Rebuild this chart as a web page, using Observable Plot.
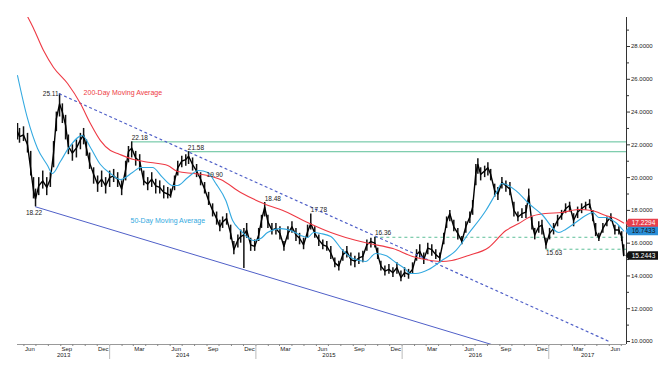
<!DOCTYPE html>
<html><head><meta charset="utf-8">
<script src="https://cdn.jsdelivr.net/npm/d3@7"></script>
<script src="https://cdn.jsdelivr.net/npm/@observablehq/plot@0.6"></script>
<style>html,body{margin:0;padding:0;background:#fff;} svg{display:block}</style>
</head><body><div id="chart"></div>
<script>
const dates = ["2013-05-16","2013-05-21","2013-05-31","2013-06-10","2013-06-18","2013-06-25","2013-06-30","2013-07-08","2013-07-18","2013-07-28",
"2013-08-06","2013-08-14","2013-08-21","2013-08-29","2013-09-05","2013-09-13","2013-09-20","2013-09-30","2013-10-10","2013-10-20",
"2013-10-28","2013-11-04","2013-11-12","2013-11-22","2013-12-02","2013-12-12","2013-12-22","2014-01-01","2014-01-11","2014-01-21",
"2014-01-31","2014-02-10","2014-02-17","2014-02-25","2014-03-07","2014-03-17","2014-03-27","2014-04-06","2014-04-16","2014-04-26",
"2014-05-06","2014-05-16","2014-05-26","2014-06-02","2014-06-12","2014-06-20","2014-06-30","2014-07-10","2014-07-17","2014-07-27",
"2014-08-06","2014-08-16","2014-08-26","2014-09-05","2014-09-15","2014-09-25","2014-10-03","2014-10-10","2014-10-20","2014-10-30",
"2014-11-07","2014-11-17","2014-11-24","2014-12-02","2014-12-09","2014-12-19","2014-12-29","2015-01-08","2015-01-15","2015-01-23",
"2015-01-31","2015-02-10","2015-02-20","2015-03-02","2015-03-12","2015-03-22","2015-04-01","2015-04-11","2015-04-20","2015-04-30",
"2015-05-10","2015-05-18","2015-05-28","2015-06-07","2015-06-17","2015-06-27","2015-07-07","2015-07-17","2015-07-27","2015-08-06",
"2015-08-16","2015-08-26","2015-09-05","2015-09-15","2015-09-25","2015-10-05","2015-10-15","2015-10-25","2015-11-01","2015-11-09",
"2015-11-19","2015-11-29","2015-12-09","2015-12-19","2015-12-29","2016-01-07","2016-01-17","2016-01-27","2016-02-06","2016-02-14",
"2016-02-24","2016-03-05","2016-03-15","2016-03-25","2016-04-04","2016-04-14","2016-04-21","2016-04-29","2016-05-09","2016-05-19",
"2016-05-29","2016-06-08","2016-06-18","2016-06-25","2016-07-03","2016-07-08","2016-07-15","2016-07-25","2016-08-02","2016-08-09",
"2016-08-19","2016-08-27","2016-09-06","2016-09-16","2016-09-26","2016-10-06","2016-10-16","2016-10-26","2016-11-05","2016-11-12",
"2016-11-20","2016-11-27","2016-12-07","2016-12-15","2016-12-25","2017-01-03","2017-01-13","2017-01-23","2017-02-02","2017-02-12",
"2017-02-22","2017-03-04","2017-03-14","2017-03-24","2017-04-03","2017-04-13","2017-04-21","2017-04-28","2017-05-06","2017-05-16",
"2017-05-26","2017-06-05","2017-06-15","2017-06-25","2017-07-02","2017-07-07"];
const closes = [22.8,22.5,22.6,22.0,20.5,19.2,18.7,19.5,19.8,19.4,
19.9,21.5,23.6,24.5,24.0,23.2,21.9,21.5,21.8,22.3,
22.6,21.8,20.9,20.2,19.6,19.9,19.5,20.0,20.1,19.9,
19.3,20.5,21.6,21.8,21.2,21.0,19.8,19.6,19.9,19.5,
19.4,19.1,19.0,18.9,19.8,20.6,21.0,21.1,21.3,20.8,
20.4,19.9,19.3,18.6,18.0,17.5,17.0,17.3,17.5,16.6,
15.6,16.2,16.4,16.5,16.8,15.9,15.8,16.5,17.4,18.2,
17.3,16.8,16.9,16.6,15.8,16.6,17.0,16.5,16.3,15.9,
16.7,17.2,16.6,16.2,15.9,15.8,15.4,14.8,14.6,15.3,
15.5,15.0,14.9,15.1,15.2,15.9,16.1,16.0,15.3,14.6,
14.3,14.4,14.2,14.5,13.9,14.2,14.1,14.4,15.3,15.5,
15.0,15.7,15.6,15.3,15.1,16.3,17.3,17.8,17.0,16.6,
16.1,17.0,17.6,18.2,20.3,20.8,20.2,20.4,20.6,20.2,
19.2,19.0,19.7,19.5,19.3,18.0,17.6,17.8,17.9,18.9,
17.2,16.5,17.0,17.1,15.9,16.6,16.9,17.4,17.7,18.1,
18.3,17.4,17.9,18.1,18.3,18.4,17.6,16.7,16.3,16.9,
17.3,17.6,16.8,16.8,16.4,15.2443];
const highs = [23.3,23.0,23.1,22.7,21.6,20.0,19.3,20.0,20.4,20.0,
20.3,22.2,24.0,25.11,24.5,23.8,22.6,22.0,22.3,22.7,
23.0,22.3,21.5,20.6,20.1,20.4,20.0,20.4,20.5,20.3,
19.8,21.0,21.9,22.18,21.6,21.4,20.4,20.0,20.3,19.9,
19.8,19.5,19.4,19.3,20.1,21.0,21.3,21.4,21.58,21.2,
20.8,20.3,19.7,19.1,18.4,17.9,17.4,17.6,17.8,17.1,
16.1,16.5,16.8,16.9,17.2,16.3,16.2,16.9,17.7,18.48,
17.7,17.2,17.2,17.0,16.1,17.0,17.3,16.9,16.6,16.3,
17.1,17.78,17.0,16.5,16.2,16.1,15.8,15.1,14.9,15.6,
15.8,15.4,15.2,15.4,15.5,16.2,16.3,16.36,15.7,14.9,
14.6,14.7,14.5,14.8,14.3,14.5,14.4,14.8,15.6,15.9,
15.4,16.0,15.9,15.6,15.4,16.6,17.6,18.0,17.4,16.9,
16.4,17.3,17.9,18.6,20.8,21.15,20.6,20.7,20.9,20.5,
19.6,19.4,20.0,19.8,19.7,18.5,17.9,18.1,18.3,19.3,
17.6,16.9,17.3,17.4,16.3,16.9,17.2,17.7,18.0,18.4,
18.5,17.8,18.2,18.4,18.5,18.65,18.0,17.2,16.6,17.2,
17.6,17.8,17.1,17.0,16.7,15.9];
const lows = [22.3,22.1,22.2,21.5,20.1,18.7,18.22,18.9,19.3,18.9,
19.4,20.6,22.8,23.7,23.3,22.3,21.4,21.0,21.2,21.7,
22.0,21.3,20.5,19.6,19.1,19.4,19.0,19.4,19.7,19.4,
18.9,19.8,20.9,21.2,20.7,20.4,19.5,19.2,19.4,19.0,
19.0,18.7,18.7,18.75,19.2,20.1,20.6,20.7,20.8,20.4,
20.0,19.5,19.0,18.3,17.6,17.1,16.7,16.9,17.1,16.2,
15.3,15.7,16.0,14.45,16.3,15.5,15.5,16.1,16.9,17.6,
16.9,16.5,16.5,16.2,15.5,16.2,16.6,16.1,15.9,15.6,
16.3,16.8,16.3,15.8,15.6,15.5,15.0,14.5,14.3,14.9,
15.1,14.6,14.5,14.7,14.8,15.5,15.7,15.7,15.0,14.3,
14.0,14.1,13.9,14.1,13.65,13.9,13.8,14.1,14.9,15.1,
14.7,15.3,15.2,15.0,14.8,15.9,16.9,17.3,16.7,16.2,
15.9,16.6,17.2,17.7,19.5,20.2,19.8,20.0,20.1,19.8,
18.8,18.6,19.3,19.1,18.9,17.6,17.3,17.5,17.5,18.4,
16.8,16.2,16.6,16.5,15.63,16.2,16.5,17.0,17.4,17.8,
17.9,17.0,17.5,17.8,18.0,18.1,17.3,16.4,16.1,16.6,
17.0,17.3,16.5,16.5,16.1,15.2];

// ---- moving averages ----
const ma200Dates = ["2013-06-02","2013-06-24","2013-07-20","2013-08-14","2013-09-18","2013-10-20","2013-11-14","2013-12-09","2014-01-03","2014-01-21",
"2014-03-02","2014-04-13","2014-05-26","2014-06-20","2014-07-30","2014-09-03","2014-10-05","2014-11-24","2015-01-20","2015-03-21",
"2015-05-10","2015-07-07","2015-08-13","2015-10-10","2015-12-09","2016-01-27","2016-03-12","2016-04-09","2016-05-04","2016-06-15",
"2016-08-04","2016-09-16","2016-10-18","2016-11-12","2016-12-24","2017-02-02","2017-03-16","2017-04-18","2017-05-23","2017-06-17","2017-07-07"];
const ma200 = [30.2,29.16,27.75,26.72,25.74,24.52,23.30,22.26,21.65,21.47,
21.10,20.92,20.74,20.37,20.25,20.13,19.88,19.09,18.42,17.87,
17.26,16.65,16.35,15.98,15.67,15.19,14.94,14.88,14.94,15.25,
15.74,16.77,17.20,17.57,17.81,17.87,18.05,17.99,17.69,17.50,17.2294];
const ma50Dates = ["2013-05-16","2013-06-10","2013-07-05","2013-07-30","2013-08-11","2013-08-31","2013-09-20","2013-10-25","2013-11-14","2013-12-09",
"2014-01-03","2014-01-28","2014-02-27","2014-03-19","2014-04-18","2014-05-13","2014-06-07","2014-06-20","2014-07-15","2014-08-11",
"2014-09-03","2014-09-23","2014-10-18","2014-11-04","2014-11-24","2014-12-26","2015-01-13","2015-01-30","2015-03-04","2015-03-29",
"2015-04-23","2015-05-10","2015-05-25","2015-06-12","2015-07-07","2015-08-06","2015-08-31","2015-10-02","2015-10-27","2015-11-21",
"2015-12-16","2016-01-10","2016-01-20","2016-02-04","2016-03-07","2016-04-09","2016-05-14","2016-06-15","2016-07-28","2016-08-22",
"2016-09-06","2016-10-11","2016-11-12","2016-12-15","2017-01-26","2017-02-12","2017-03-09","2017-04-03","2017-04-21","2017-05-06",
"2017-05-23","2017-06-17","2017-07-07"];
const ma50 = [26.23,23.61,21.78,20.74,20.25,20.98,21.78,22.57,21.84,20.80,
20.25,19.88,20.31,20.62,20.62,20.01,19.52,19.52,20.01,20.43,
20.31,19.64,18.60,17.38,16.77,16.16,16.28,16.65,16.89,16.77,
16.47,16.35,16.65,16.59,16.41,15.55,15.06,14.88,15.37,15.25,
14.82,14.40,14.15,14.15,14.39,14.94,15.55,16.59,17.99,19.03,
19.64,19.21,18.42,17.75,16.65,16.84,17.26,17.69,17.87,17.57,
17.57,17.26,16.7433];

// ---- trend lines & levels ----
const resistDates = ["2013-08-29","2017-06-01"], resistValues = [25.11, 10.0];
const supportDates = ["2013-06-30","2016-08-11"], supportValues = [18.22, 9.82];
const levelValues = [22.18, 21.58], levelFrom = ["2014-02-25","2014-07-15"];
const dashValues = [16.36, 15.63], dashFrom = ["2015-10-25","2016-12-25"];

// ---- annotations ----
const aboveLabels = ["22.18","21.58","18.48","17.78","16.36","19.90"];
const aboveDates = ["2014-02-25","2014-07-15","2015-01-23","2015-05-18","2015-10-25","2014-08-31"];
const aboveValues = [22.18,21.58,18.48,17.78,16.36,19.90];
const belowLabels = ["15.63"], belowDates = ["2016-12-25"], belowValues = [15.63];
const lowLabels = ["18.22"], lowDates = ["2013-06-30"], lowValues = [18.22];
const leftLabels = ["25.11"], leftDates = ["2013-08-29"], leftValues = [25.11];
const maNames = ["200-Day Moving Average","50-Day Moving Average"];
const maNameDates = ["2013-10-28","2014-02-22"], maNameValues = [25.19, 17.38];
const badgeValues = [17.2294, 16.7433, 15.2443];

// ---- axes ----
const yTicks = [10,12,14,16,18,20,22,24,26,28];
const yMinor = [11,13,15,17,19,21,23,25,27,29];
const labeledMonths = ["2013-06","2013-09","2013-12","2014-03","2014-06","2014-09","2014-12","2015-03","2015-06","2015-09","2015-12","2016-03","2016-06","2016-09","2016-12","2017-03","2017-06"];
const years = [2013,2014,2015,2016,2017];

const D = s => new Date(s);
const xDomain = [D("2013-05-16"), D("2017-07-14")];
const yDomain = [9.817, 29.77];

const price = dates.map((d,i) => ({date: D(d), close: closes[i], high: highs[i], low: lows[i]}));
const m200 = ma200Dates.map((d,i) => ({date: D(d), v: ma200[i]}));
const m50 = ma50Dates.map((d,i) => ({date: D(d), v: ma50[i]}));
const resist = resistDates.map((d,i) => ({date: D(d), v: resistValues[i]}));
const support = supportDates.map((d,i) => ({date: D(d), v: supportValues[i]}));
const levels = levelValues.map((v,i) => ({v, from: D(levelFrom[i])}));
const dashes = dashValues.map((v,i) => ({v, from: D(dashFrom[i])}));
const mk = (labs, ds, vs) => labs.map((t,i) => ({t, date: D(ds[i]), v: vs[i]}));

const monthStarts = d3.utcMonths(d3.utcMonth.ceil(xDomain[0]), xDomain[1]);
const yearStarts = years.slice(1).map(y => new Date(Date.UTC(y,0,1)));
const monthLabelData = labeledMonths.map(s => {const [y,m] = s.split("-").map(Number); return new Date(Date.UTC(y, m-1, 16));});
const yearLabelData = years.map(y => {
  const a = Math.max(Date.UTC(y,0,1), +xDomain[0]), b = Math.min(Date.UTC(y+1,0,1), +xDomain[1]);
  return {y, date: new Date((a+b)/2)};
});

const badge = {draw(ctx){ ctx.moveTo(-17,0); ctx.lineTo(-14,-4.3); ctx.lineTo(16,-4.3); ctx.lineTo(16,4.3); ctx.lineTo(-14,4.3); ctx.closePath(); }};
const badgeFills = ["#e8404c","#2a8fd8","#111111"];
const badgeText = ["#ffffff","#111111","#ffffff"];

const RED = "#ee3a45", BLUE = "#33a9e0", GREEN = "#5cbf98", TREND = "#5060c8";
const font = "Liberation Sans";

const chart = Plot.plot({
  width: 658, height: 366,
  marginLeft: 17, marginRight: 32, marginTop: 17, marginBottom: 22,
  style: {fontFamily: font, fontSize: "6px", background: "#ffffff", color: "#222"},
  x: {type: "utc", domain: xDomain, axis: null},
  y: {domain: yDomain, axis: null},
  marks: [
    // levels
    Plot.ruleY(levels, {y: "v", x1: "from", x2: () => xDomain[1], stroke: GREEN, strokeWidth: 1}),
    Plot.ruleY(dashes, {y: "v", x1: "from", x2: () => xDomain[1], stroke: GREEN, strokeWidth: 1, strokeDasharray: "3,3"}),
    // trend lines
    Plot.line(support, {x: "date", y: "v", stroke: TREND, strokeWidth: 1, clip: true}),
    // price
    Plot.ruleX(price, {x: "date", y1: "low", y2: "high", stroke: "#111", strokeWidth: 1.5, clip: true}),
    Plot.line(price, {x: "date", y: "close", stroke: "#000", strokeWidth: 1.4, clip: true}),
    Plot.line(resist, {x: "date", y: "v", stroke: TREND, strokeWidth: 1.2, strokeDasharray: "2,3.5", clip: true}),
    // moving averages
    Plot.line(m200, {x: "date", y: "v", stroke: RED, strokeWidth: 1.1, clip: true, curve: "monotone-x"}),
    Plot.line(m50, {x: "date", y: "v", stroke: BLUE, strokeWidth: 1.1, clip: true, curve: "monotone-x"}),
    // annotations
    Plot.text(mk(aboveLabels, aboveDates, aboveValues), {x: "date", y: "v", text: "t", textAnchor: "start", dy: -4, fontSize: 6.5, fill: "#222"}),
    Plot.text(mk(belowLabels, belowDates, belowValues), {x: "date", y: "v", text: "t", textAnchor: "start", dy: 4, fontSize: 6.5, fill: "#222"}),
    Plot.text(mk(lowLabels, lowDates, lowValues), {x: "date", y: "v", text: "t", textAnchor: "middle", dx: -1.5, dy: 6, fontSize: 6.5, fill: "#222"}),
    Plot.text(mk(leftLabels, leftDates, leftValues), {x: "date", y: "v", text: "t", textAnchor: "end", dx: -1, fontSize: 6.5, fill: "#222"}),
    Plot.text([0], {x: () => D(maNameDates[0]), y: () => maNameValues[0], text: () => maNames[0], textAnchor: "start", fill: RED, fontSize: 7}),
    Plot.text([0], {x: () => D(maNameDates[1]), y: () => maNameValues[1], text: () => maNames[1], textAnchor: "start", fill: BLUE, fontSize: 7}),
    // axes
    Plot.ruleY([yDomain[0]], {stroke: "#999", strokeWidth: 1}),
    Plot.ruleX([xDomain[1]], {stroke: "#333", strokeWidth: 1}),
    Plot.axisX({ticks: monthStarts, tickSize: 2, tickFormat: () => "", stroke: "#888"}),
    Plot.axisX({ticks: yearStarts, tickSize: 15, tickFormat: () => "", stroke: "#bbb"}),
    Plot.text(monthLabelData, {x: d => d, frameAnchor: "bottom", lineAnchor: "top", dy: 2, text: d => d3.utcFormat("%b")(d), fontSize: 6, fill: "#222"}),
    Plot.text(yearLabelData, {x: "date", frameAnchor: "bottom", lineAnchor: "top", dy: 8.5, text: d => String(d.y), fontSize: 6, fill: "#222"}),
    Plot.axisY({anchor: "right", ticks: yTicks, tickSize: 3, tickPadding: 1.5, tickFormat: d3.format(".4f"), fontSize: 6, stroke: "#333"}),
    Plot.axisY({anchor: "right", ticks: yMinor, tickSize: 2, tickFormat: () => "", stroke: "#333"}),
    // value badges
    ...badgeValues.map((v,i) => Plot.dot([v], {x: () => xDomain[1], y: d => d, symbol: badge, fill: badgeFills[i], stroke: null, dx: 16})),
    ...badgeValues.map((v,i) => Plot.text([v], {x: () => xDomain[1], y: d => d, text: d => d3.format(".4f")(d), dx: 17, fill: badgeText[i], fontSize: 6.5, textAnchor: "middle"}))
  ]
});
document.getElementById("chart").appendChild(chart);
</script></body></html>
